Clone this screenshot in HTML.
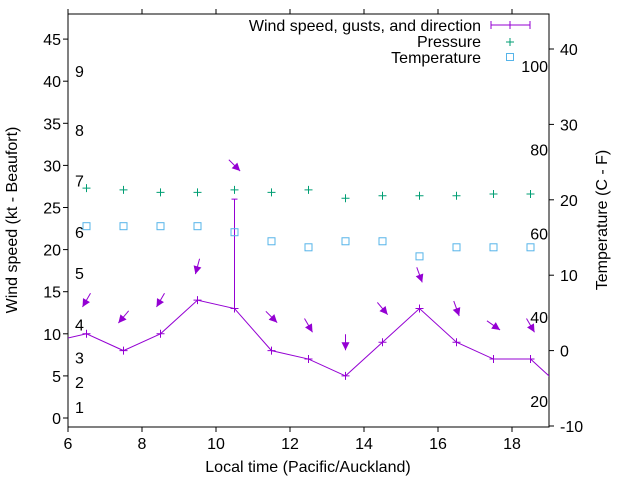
<!DOCTYPE html>
<html><head><meta charset="utf-8"><style>
body{margin:0;background:#fff}
svg text{font-family:"Liberation Sans",sans-serif;font-size:16px;fill:#000}
</style></head><body>
<svg id="c" width="640" height="480" xmlns="http://www.w3.org/2000/svg"></svg>
<script>
const hours=[6.5,7.5,8.5,9.5,10.5,11.5,12.5,13.5,14.5,15.5,16.5,17.5,18.5];
const wind=[10,8,10,14,13,8,7,5,9,13,9,7,7];
const gust=[null,null,null,null,26,null,null,null,null,null,null,null,null];
const windBefore=[5.5,9];
const windAfter=[19.5,3];
const dirs=[30,40,30,15,315,315,330,0,320,340,340,305,330];
const pressure=[27.3,27.1,26.8,26.8,27.1,26.8,27.1,26.1,26.4,26.4,26.4,26.6,26.6];
const temp=[16.5,16.5,16.5,16.5,15.7,14.5,13.7,14.5,14.5,12.5,13.7,13.7,13.7];
const xTicks=[6,8,10,12,14,16,18];
const yTicks=[0,5,10,15,20,25,30,35,40,45];
const y2Ticks=[-10,0,10,20,30,40];
const beaufort=[1,2,3,4,5,6,7,8,9];
const beaufortY=[1.3,4.3,7.2,11.1,17.2,22.1,28.2,34.2,41.2];
const fahr=[20,40,60,80,100];
const L=68,R=549,T=14,B=427;
const X=v=>L+(v-6)/13*(R-L);
const Y=v=>418-v*8.42;
const Y2=v=>426-(v+10)*7.54;
const svg=document.getElementById('c');
const NS='http://www.w3.org/2000/svg';
function el(t,a,p){const e=document.createElementNS(NS,t);for(const k in a)e.setAttribute(k,a[k]);(p||svg).appendChild(e);return e;}
function txt(s,x,y,anchor,name,rot){const e=el('text',{x:x,y:y,'text-anchor':anchor||'start'});e.textContent=s;if(rot)e.setAttribute('transform',rot);

return e;}
const fr=el('rect',{x:L,y:T,width:R-L,height:B-T,fill:'none',stroke:'#000','stroke-width':1});


xTicks.forEach(v=>{const x=X(v);el('line',{x1:x,y1:B,x2:x,y2:B+5,stroke:'#000'});el('line',{x1:x,y1:T,x2:x,y2:T-5,stroke:'#000'});txt(String(v),x,449,'middle','x-tick-label');});
yTicks.forEach(v=>{const y=Y(v);el('line',{x1:L,y1:y,x2:L-5,y2:y,stroke:'#000'});txt(String(v),61,y+6,'end','y-tick-label');});
y2Ticks.forEach(v=>{const y=Y2(v);el('line',{x1:R,y1:y,x2:R+5,y2:y,stroke:'#000'});txt(String(v),560,y+6,'start','y2-tick-label');});
beaufort.forEach((b,i)=>txt(String(b),75,Y(beaufortY[i])+6,'start','beaufort-label'));
fahr.forEach(f=>txt(String(f),548,Y2((f-32)*5/9)+6,'end','fahrenheit-label'));
txt('Local time (Pacific/Auckland)',308,472,'middle','x-axis-title');
txt('Wind speed (kt - Beaufort)',17,220,'middle','y-axis-title','rotate(-90 17 220)');
txt('Temperature (C - F)',607,220,'middle','y2-axis-title','rotate(-90 607 220)');
const g=el('g',{});g.setAttribute('clip-path','url(#clp)');
const cp=el('clipPath',{id:'clp'});el('rect',{x:L,y:T,width:R-L,height:B-T},cp);
const pts=[[windBefore[0],windBefore[1]]].concat(hours.map((h,i)=>[h,wind[i]])).concat([[windAfter[0],windAfter[1]]]);
const wl=el('polyline',{points:pts.map(p=>X(p[0])+','+Y(p[1])).join(' '),fill:'none',stroke:'#9400d3','stroke-width':1},g);


function plus(x,y,c,name){const p=el('path',{d:`M${x-4},${y}h8M${x},${y-4}v8`,stroke:c,'stroke-width':1},g);}
hours.forEach((h,i)=>{const x=X(h);plus(x,Y(wind[i]),'#9400d3','wind-point');
if(gust[i]!=null){const gl=el('path',{d:`M${x},${Y(wind[i])}V${Y(gust[i])}M${x-3},${Y(gust[i])}h6`,stroke:'#9400d3'},g);

}
const top=Math.max(wind[i],gust[i]||0)+4;const cx=x,cy=Y(top);
const a=dirs[i]*Math.PI/180;const dx=-Math.sin(a),dy=Math.cos(a);
const x0=cx-dx*8,y0=cy-dy*8,x1=cx+dx*8,y1=cy+dy*8;
const px=-dy,py=dx;
const ar=el('g',{},g);


el('line',{x1:x0,y1:y0,x2:x1,y2:y1,stroke:'#9400d3','stroke-width':1},ar);
el('polygon',{points:`${x1},${y1} ${x1-dx*8+px*4},${y1-dy*8+py*4} ${x1-dx*8-px*4},${y1-dy*8-py*4}`,fill:'#9400d3'},ar);
plus(x,Y(pressure[i]),'#009e73','pressure-point');
const s=el('rect',{x:x-3.5,y:Y2(temp[i])-3.5,width:7,height:7,fill:'none',stroke:'#56b4e9'},g);

});
const lg=el('g',{});


txt('Wind speed, gusts, and direction',481,31,'end','legend-label-wind');
txt('Pressure',481,47,'end','legend-label-pressure');
txt('Temperature',481,63,'end','legend-label-temperature');
el('path',{d:'M491,25H530M491,21v8M530,21v8M510,21v8',stroke:'#9400d3'},lg);
el('path',{d:'M506,42h8M510,38v8',stroke:'#009e73'},lg);
el('rect',{x:506.5,y:53.5,width:7,height:7,fill:'none',stroke:'#56b4e9'},lg);
</script>
</body></html>
